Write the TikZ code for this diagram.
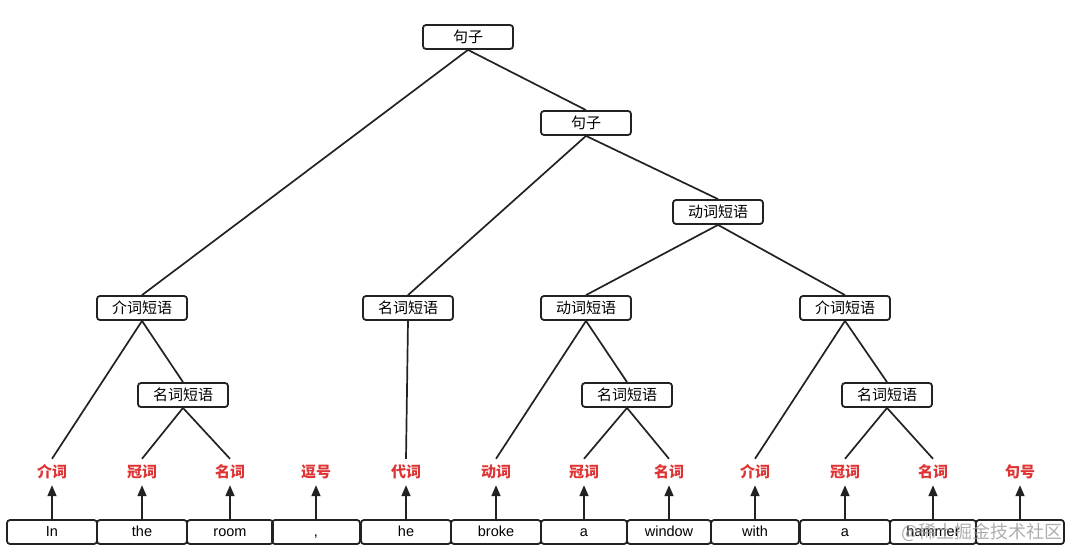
\documentclass[tikz,border=0pt]{standalone}
\usepackage{fontspec}
\setmainfont{Liberation Sans}
\newfontfamily\cjk{Noto Sans CJK SC}
\usetikzlibrary{arrows.meta}
\definecolor{posred}{RGB}{222,52,52}
\definecolor{ink}{RGB}{34,34,34}
\tikzset{
	phrase/.style={draw=ink, line width=1.8pt, rounded corners=3pt, minimum width=90pt, minimum height=24pt, inner sep=0pt, text height=13pt, text depth=2pt, font=\cjk\fontsize{15}{17}\selectfont},
	word/.style={draw=ink, line width=1.8pt, rounded corners=3pt, minimum height=24pt, inner sep=0pt, text height=11pt, text depth=2pt, font=\fontsize{14.5}{17}\selectfont},
	postag/.style={text=posred, minimum height=26pt, inner sep=0pt, font=\cjk\bfseries\fontsize{15}{17}\selectfont},
	branch/.style={draw=ink, line width=1.7pt},
	tag/.style={draw=ink, line width=1.8pt, -{Triangle[length=11pt,width=9pt]}}
}
\begin{document}
\begin{tikzpicture}[x=1pt, y=-1pt]
		%%%%% START %%%%%
		\useasboundingbox (0, 0) rectangle (1084, 559);
		
		% phrase nodes
		\node[phrase] (s) at (468, 37) {句子};
		\node[phrase] (s2) at (586, 123) {句子};
		\node[phrase] (vp) at (718, 212) {动词短语};
		\node[phrase] (pp1) at (142, 308) {介词短语};
		\node[phrase] (np0) at (408, 308) {名词短语};
		\node[phrase] (vp2) at (586, 308) {动词短语};
		\node[phrase] (pp2) at (845, 308) {介词短语};
		\node[phrase] (np1) at (183, 395) {名词短语};
		\node[phrase] (np2) at (627, 395) {名词短语};
		\node[phrase] (np3) at (887, 395) {名词短语};
		
		% words
		\node[word, minimum width=90pt] (w1) at (52, 532) {In};
		\node[word, minimum width=90pt] (w2) at (142, 532) {the};
		\node[word, minimum width=86pt] (w3) at (230, 532) {room};
		\node[word, minimum width=88pt] (w4) at (316, 532) {,};
		\node[word, minimum width=90pt] (w5) at (406, 532) {he};
		\node[word, minimum width=90pt] (w6) at (496, 532) {broke};
		\node[word, minimum width=86pt] (w7) at (584, 532) {a};
		\node[word, minimum width=84pt] (w8) at (669, 532) {window};
		\node[word, minimum width=88pt] (w9) at (755, 532) {with};
		\node[word, minimum width=90pt] (w10) at (845, 532) {a};
		\node[word, minimum width=86pt] (w11) at (933, 532) {hammer};
		\node[word, minimum width=88pt] (w12) at (1020, 532) {};
		
		% parts of speech
		\node[postag] (t1) at (52, 472) {介词};
		\node[postag] (t2) at (142, 472) {冠词};
		\node[postag] (t3) at (230, 472) {名词};
		\node[postag] (t4) at (316, 472) {逗号};
		\node[postag] (t5) at (406, 472) {代词};
		\node[postag] (t6) at (496, 472) {动词};
		\node[postag] (t7) at (584, 472) {冠词};
		\node[postag] (t8) at (669, 472) {名词};
		\node[postag] (t9) at (755, 472) {介词};
		\node[postag] (t10) at (845, 472) {冠词};
		\node[postag] (t11) at (933, 472) {名词};
		\node[postag] (t12) at (1020, 472) {句号};
		
		\foreach \i in {1,...,12}
			\draw[tag] (w\i.north) -- (t\i.south);
		
		% tree
		\draw[branch] (s.south) -- (pp1.north);
		\draw[branch] (s.south) -- (s2.north);
		\draw[branch] (s2.south) -- (np0.north);
		\draw[branch] (s2.south) -- (vp.north);
		\draw[branch] (vp.south) -- (vp2.north);
		\draw[branch] (vp.south) -- (pp2.north);
		
		\draw[branch] (pp1.south) -- (t1.north);
		\draw[branch] (pp1.south) -- (np1.north);
		\draw[branch] (np1.south) -- (t2.north);
		\draw[branch] (np1.south) -- (t3.north);
		
		\draw[branch] (np0.south) -- (t5.north);
		
		\draw[branch] (vp2.south) -- (t6.north);
		\draw[branch] (vp2.south) -- (np2.north);
		\draw[branch] (np2.south) -- (t7.north);
		\draw[branch] (np2.south) -- (t8.north);
		
		\draw[branch] (pp2.south) -- (t9.north);
		\draw[branch] (pp2.south) -- (np3.north);
		\draw[branch] (np3.south) -- (t10.north);
		\draw[branch] (np3.south) -- (t11.north);
		
		% watermark
		\node[text=black!40, opacity=0.8, font=\cjk\fontsize{18}{20}\selectfont, anchor=east] (wm) at (1066, 532) {@稀土掘金技术社区};
		%%%%% END %%%%%
\end{tikzpicture}
\end{document}
